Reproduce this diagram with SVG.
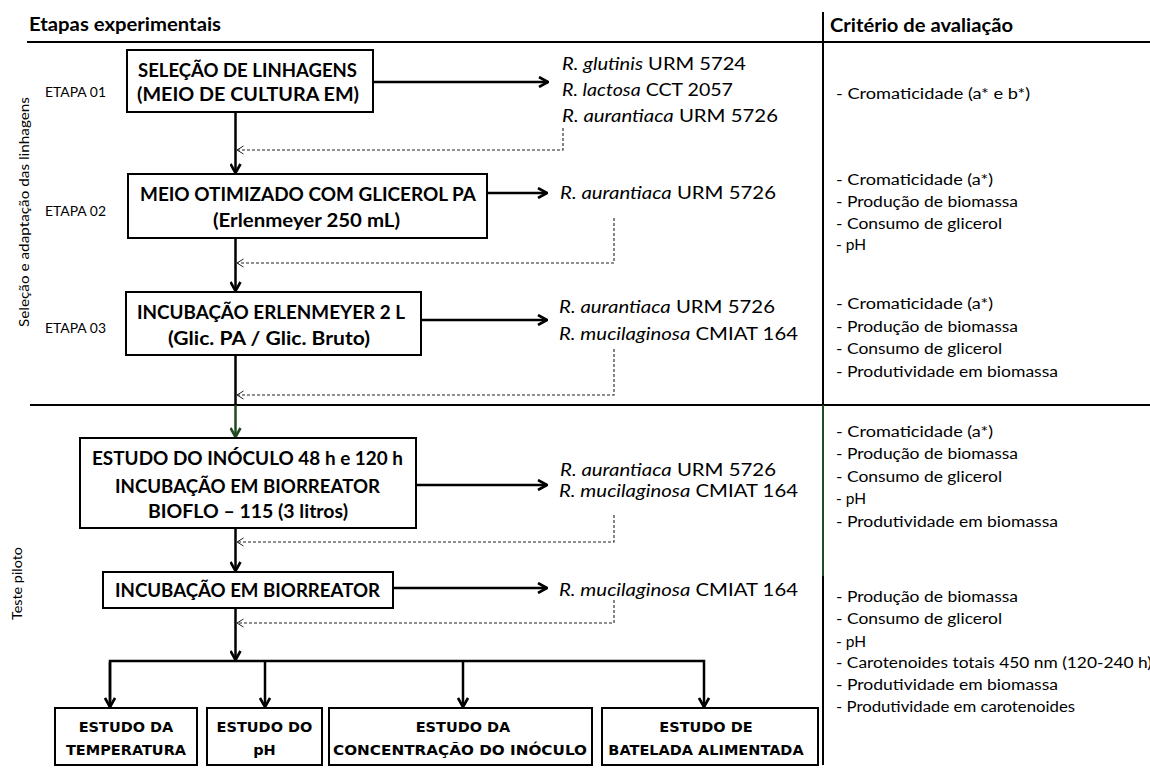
<svg xmlns="http://www.w3.org/2000/svg" width="1150" height="771" viewBox="0 0 1150 771">
<style>
.box{fill:#fff;stroke:#000;stroke-width:2}
.t{font-family:Lato,"Liberation Sans",sans-serif;fill:#000}
.h{font-weight:bold;font-size:18px}
.bt{font-weight:bold;font-size:19.5px}
.sp{font-size:18px}
.cr{font-size:15.5px}
.et{font-size:14px}
.side{font-size:14px}
.bb{font-family:"DejaVu Sans",Verdana,sans-serif;font-weight:bold;font-size:14.5px;text-anchor:middle;fill:#000}
.ln{stroke:#000;stroke-width:2.5;fill:none}
.gr{stroke:#1f4a22;stroke-width:2.5;fill:none}
.sep{stroke:#000;stroke-width:2;fill:none}
.ds{stroke:#222;stroke-width:1.1;stroke-dasharray:3 2;fill:none}
</style>
<defs>
<marker id="ah" viewBox="0 0 12 12" refX="11" refY="6" markerWidth="12" markerHeight="12" markerUnits="userSpaceOnUse" orient="auto">
<path d="M2,1 L11,6 L2,11" fill="none" stroke="#000" stroke-width="2.6"/>
</marker>
<marker id="ahg" viewBox="0 0 12 12" refX="11" refY="6" markerWidth="12" markerHeight="12" markerUnits="userSpaceOnUse" orient="auto">
<path d="M2,1 L11,6 L2,11" fill="none" stroke="#1f4a22" stroke-width="2.6"/>
</marker>
<marker id="ad" viewBox="0 0 8 10" refX="7.5" refY="5" markerWidth="8" markerHeight="10" markerUnits="userSpaceOnUse" orient="auto">
<path d="M1,1 L7.5,5 L1,9" fill="none" stroke="#222" stroke-width="1"/>
</marker>
</defs>
<rect x="0" y="0" width="1150" height="771" fill="#fff"/>

<g id="frame">
<line class="sep" x1="27" y1="42" x2="1150" y2="42"/>
<line class="sep" x1="30" y1="405" x2="1150" y2="405"/>
<line class="sep" x1="823" y1="12" x2="823" y2="405"/>
<line x1="823" y1="405" x2="823" y2="576" stroke="#1f4a22" stroke-width="2"/>
<line class="sep" x1="823" y1="576" x2="823" y2="765"/>
<text class="t h" x="29" y="31" textLength="192" lengthAdjust="spacingAndGlyphs">Etapas experimentais</text>
<text class="t h" x="830" y="32" textLength="183" lengthAdjust="spacingAndGlyphs">Critério de avaliação</text>
<text class="t side" transform="translate(29,327) rotate(-90)" x="0" y="0" textLength="230" lengthAdjust="spacingAndGlyphs">Seleção e adaptação das linhagens</text>
<text class="t side" transform="translate(22,620) rotate(-90)" x="0" y="0" textLength="73" lengthAdjust="spacingAndGlyphs">Teste piloto</text>
<text class="t et" x="45" y="97" textLength="61" lengthAdjust="spacingAndGlyphs">ETAPA 01</text>
<text class="t et" x="45" y="216" textLength="61" lengthAdjust="spacingAndGlyphs">ETAPA 02</text>
<text class="t et" x="45" y="333" textLength="61" lengthAdjust="spacingAndGlyphs">ETAPA 03</text>
</g>

<g id="connectors">
<line class="ln" x1="235.5" y1="112" x2="235.5" y2="173" marker-end="url(#ah)"/>
<line class="ln" x1="235.5" y1="238" x2="235.5" y2="291" marker-end="url(#ah)"/>
<line class="ln" x1="235.5" y1="355" x2="235.5" y2="405"/>
<line class="gr" x1="235.5" y1="405" x2="235.5" y2="437" marker-end="url(#ahg)"/>
<line class="ln" x1="235.5" y1="528" x2="235.5" y2="571" marker-end="url(#ah)"/>
<line class="ln" x1="235.5" y1="608" x2="235.5" y2="660" marker-end="url(#ah)"/>
<polyline class="ln" points="110,707 110,661 704,661 704,707" marker-end="url(#ah)"/>
<line class="ln" x1="110" y1="662" x2="110" y2="707" marker-end="url(#ah)"/>
<line class="ln" x1="265" y1="661" x2="265" y2="707" marker-end="url(#ah)"/>
<line class="ln" x1="463" y1="661" x2="463" y2="707" marker-end="url(#ah)"/>
<line class="ln" x1="373" y1="82" x2="548" y2="82" marker-end="url(#ah)"/>
<line class="ln" x1="487" y1="193" x2="547" y2="193" marker-end="url(#ah)"/>
<line class="ln" x1="421" y1="320" x2="547" y2="320" marker-end="url(#ah)"/>
<line class="ln" x1="416" y1="485" x2="547" y2="485" marker-end="url(#ah)"/>
<line class="ln" x1="393" y1="588" x2="547" y2="588" marker-end="url(#ah)"/>
<polyline class="ds" points="563,128 563,150 237,150" marker-end="url(#ad)"/>
<polyline class="ds" points="614,218 614,263 237,263" marker-end="url(#ad)"/>
<polyline class="ds" points="614,349 614,395 237,395" marker-end="url(#ad)"/>
<polyline class="ds" points="614,515 614,542 237,542" marker-end="url(#ad)"/>
<polyline class="ds" points="614,600 614,623 237,623" marker-end="url(#ad)"/>
</g>

<g id="etapa01">
<rect class="box" x="127" y="50" width="246" height="62"/>
<text class="t bt" x="138" y="77" textLength="219" lengthAdjust="spacingAndGlyphs">SELEÇÃO DE LINHAGENS</text>
<text class="t bt" x="137" y="101" textLength="222" lengthAdjust="spacingAndGlyphs">(MEIO DE CULTURA  EM)</text>
</g>
<g id="etapa02">
<rect class="box" x="128" y="174" width="359" height="64"/>
<text class="t bt" x="140" y="201" textLength="336" lengthAdjust="spacingAndGlyphs">MEIO OTIMIZADO COM GLICEROL PA</text>
<text class="t bt" x="213" y="227" textLength="187" lengthAdjust="spacingAndGlyphs">(Erlenmeyer 250 mL)</text>
</g>
<g id="etapa03">
<rect class="box" x="126" y="292" width="295" height="63"/>
<text class="t bt" x="137" y="319" textLength="268" lengthAdjust="spacingAndGlyphs">INCUBAÇÃO ERLENMEYER 2 L</text>
<text class="t bt" x="168" y="345" textLength="202" lengthAdjust="spacingAndGlyphs">(Glic. PA  /  Glic. Bruto)</text>
</g>
<g id="inoculo">
<rect class="box" x="80" y="438" width="336" height="90"/>
<text class="t bt" x="92" y="465" textLength="311" lengthAdjust="spacingAndGlyphs">ESTUDO DO INÓCULO 48 h e 120 h</text>
<text class="t bt" x="115" y="493" textLength="265" lengthAdjust="spacingAndGlyphs">INCUBAÇÃO EM BIORREATOR</text>
<text class="t bt" x="148" y="518" textLength="200" lengthAdjust="spacingAndGlyphs">BIOFLO – 115 (3 litros)</text>
</g>
<g id="biorreator">
<rect class="box" x="103" y="572" width="290" height="36"/>
<text class="t bt" x="115" y="597" textLength="265" lengthAdjust="spacingAndGlyphs">INCUBAÇÃO EM BIORREATOR</text>
</g>

<g id="cepas">
<text class="t sp" x="562" y="70" textLength="184" lengthAdjust="spacingAndGlyphs"><tspan font-style="italic">R. glutinis</tspan> URM 5724</text>
<text class="t sp" x="562" y="96" textLength="171" lengthAdjust="spacingAndGlyphs"><tspan font-style="italic">R. lactosa</tspan> CCT 2057</text>
<text class="t sp" x="562" y="122" textLength="216" lengthAdjust="spacingAndGlyphs"><tspan font-style="italic">R. aurantiaca</tspan> URM 5726</text>
<text class="t sp" x="560" y="199" textLength="216" lengthAdjust="spacingAndGlyphs"><tspan font-style="italic">R. aurantiaca</tspan> URM 5726</text>
<text class="t sp" x="559" y="313" textLength="216" lengthAdjust="spacingAndGlyphs"><tspan font-style="italic">R. aurantiaca</tspan> URM 5726</text>
<text class="t sp" x="559" y="340" textLength="239" lengthAdjust="spacingAndGlyphs"><tspan font-style="italic">R. mucilaginosa</tspan> CMIAT 164</text>
<text class="t sp" x="560" y="476" textLength="216" lengthAdjust="spacingAndGlyphs"><tspan font-style="italic">R. aurantiaca</tspan> URM 5726</text>
<text class="t sp" x="559" y="497" textLength="239" lengthAdjust="spacingAndGlyphs"><tspan font-style="italic">R. mucilaginosa</tspan> CMIAT 164</text>
<text class="t sp" x="559" y="596" textLength="239" lengthAdjust="spacingAndGlyphs"><tspan font-style="italic">R. mucilaginosa</tspan> CMIAT 164</text>
</g>

<g id="estudo-temperatura">
<rect class="box" x="55" y="708" width="142" height="57"/>
<text class="bb" x="126" y="732">ESTUDO DA</text>
<text class="bb" x="126" y="755">TEMPERATURA</text>
</g>
<g id="estudo-ph">
<rect class="box" x="207" y="708" width="115" height="57"/>
<text class="bb" x="264.5" y="732">ESTUDO DO</text>
<text class="bb" x="264.5" y="755">pH</text>
</g>
<g id="estudo-concentracao">
<rect class="box" x="329" y="708" width="263" height="57"/>
<text class="bb" x="463" y="732">ESTUDO DA</text>
<text class="bb" x="460" y="755" textLength="254" lengthAdjust="spacingAndGlyphs">CONCENTRAÇÃO DO INÓCULO</text>
</g>
<g id="estudo-batelada">
<rect class="box" x="602" y="708" width="216" height="57"/>
<text class="bb" x="706" y="732">ESTUDO DE</text>
<text class="bb" x="706" y="755">BATELADA ALIMENTADA</text>
</g>

<g id="criterios">
<text class="t cr" x="836" y="99" textLength="194" lengthAdjust="spacingAndGlyphs">- Cromaticidade (a* e b*)</text>
<text class="t cr" x="836" y="185" textLength="157" lengthAdjust="spacingAndGlyphs">- Cromaticidade (a*)</text>
<text class="t cr" x="836" y="207" textLength="182" lengthAdjust="spacingAndGlyphs">- Produção de biomassa</text>
<text class="t cr" x="836" y="229" textLength="166" lengthAdjust="spacingAndGlyphs">- Consumo de glicerol</text>
<text class="t cr" x="836" y="250">- pH</text>
<text class="t cr" x="836" y="309" textLength="157" lengthAdjust="spacingAndGlyphs">- Cromaticidade (a*)</text>
<text class="t cr" x="836" y="332" textLength="182" lengthAdjust="spacingAndGlyphs">- Produção de biomassa</text>
<text class="t cr" x="836" y="354" textLength="166" lengthAdjust="spacingAndGlyphs">- Consumo de glicerol</text>
<text class="t cr" x="836" y="377" textLength="222" lengthAdjust="spacingAndGlyphs">- Produtividade em biomassa</text>
<text class="t cr" x="836" y="437" textLength="157" lengthAdjust="spacingAndGlyphs">- Cromaticidade (a*)</text>
<text class="t cr" x="836" y="459" textLength="182" lengthAdjust="spacingAndGlyphs">- Produção de biomassa</text>
<text class="t cr" x="836" y="482" textLength="166" lengthAdjust="spacingAndGlyphs">- Consumo de glicerol</text>
<text class="t cr" x="836" y="504">- pH</text>
<text class="t cr" x="836" y="527" textLength="222" lengthAdjust="spacingAndGlyphs">- Produtividade em biomassa</text>
<text class="t cr" x="836" y="602" textLength="182" lengthAdjust="spacingAndGlyphs">- Produção de biomassa</text>
<text class="t cr" x="836" y="624" textLength="166" lengthAdjust="spacingAndGlyphs">- Consumo de glicerol</text>
<text class="t cr" x="836" y="647">- pH</text>
<text class="t cr" x="836" y="668" textLength="316" lengthAdjust="spacingAndGlyphs">- Carotenoides totais 450 nm (120-240 h)</text>
<text class="t cr" x="836" y="690" textLength="222" lengthAdjust="spacingAndGlyphs">- Produtividade em biomassa</text>
<text class="t cr" x="836" y="712" textLength="239" lengthAdjust="spacingAndGlyphs">- Produtividade em carotenoides</text>
</g>
</svg>
